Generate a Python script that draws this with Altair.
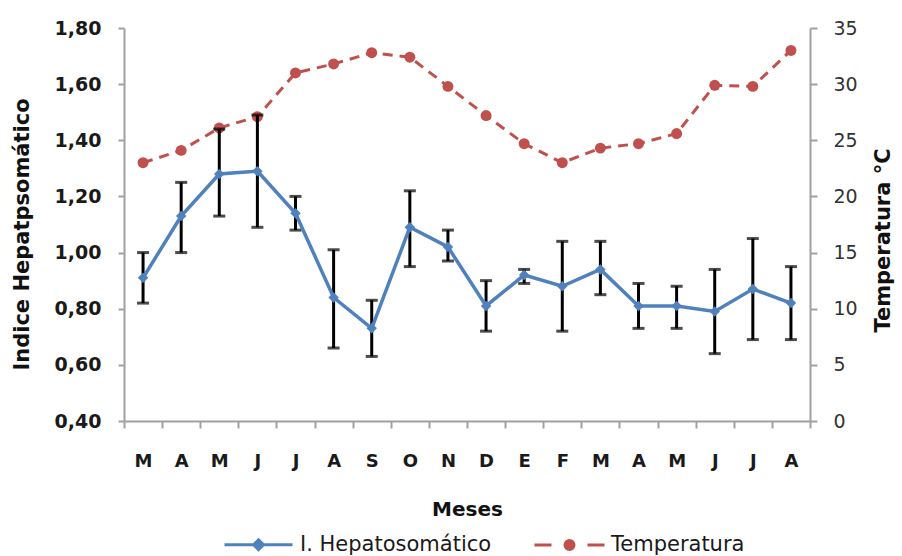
import altair as alt
import pandas as pd

# Monthly series, March to August of the following year
meses = ["M", "A", "M", "J", "J", "A", "S", "O", "N", "D", "E", "F",
         "M", "A", "M", "J", "J", "A"]
ihs = [0.91, 1.13, 1.28, 1.29, 1.14, 0.84, 0.73, 1.09, 1.02, 0.81, 0.92, 0.88,
       0.94, 0.81, 0.81, 0.79, 0.87, 0.82]
ihs_sup = [1.00, 1.25, 1.44, 1.49, 1.20, 1.01, 0.83, 1.22, 1.08, 0.90, 0.94, 1.04,
           1.04, 0.89, 0.88, 0.94, 1.05, 0.95]
ihs_inf = [0.82, 1.00, 1.13, 1.09, 1.08, 0.66, 0.63, 0.95, 0.97, 0.72, 0.89, 0.72,
           0.85, 0.73, 0.73, 0.64, 0.69, 0.69]
temperatura = [23.0, 24.1, 26.1, 27.1, 31.0, 31.8, 32.8, 32.4, 29.8, 27.2, 24.7, 23.0,
               24.3, 24.7, 25.6, 29.9, 29.8, 33.0]
series = ["I. Hepatosomático", "Temperatura"]

n = len(meses)
df = pd.DataFrame({
    "idx": list(range(n)),
    "ihs": ihs,
    "sup": ihs_sup,
    "inf": ihs_inf,
    "temp": temperatura,
})
df_leg = pd.DataFrame({"idx": [0, 1], "serie": series, "ihs": ihs[:2]})

AZUL = "#4f81bd"
ROJO = "#c0504d"
GRIS = "#a0a0a0"
FUENTE = "DejaVu Sans"

# legend symbols: line + marker drawn as one path
SIMB_AZUL = "M-3.4,0L3.4,0M0,-0.5L0.5,0L0,0.5L-0.5,0Z"
SIMB_ROJO = ("M-3.5,0L-1.8,0M1.8,0L3.5,0"
             "M0.45,0A0.45,0.45,0,1,1,-0.45,0A0.45,0.45,0,1,1,0.45,0Z")

label_expr = "[" + ",".join(f"'{m}'" for m in meses) + "][datum.value]"

x_scale = alt.Scale(type="band", paddingInner=0, paddingOuter=0)
x_axis = alt.Axis(
    title="Meses", labelExpr=label_expr, labelAngle=0, tickBand="extent",
    tickSize=7, labelPadding=24, labelFontSize=18, labelFontWeight="bold",
    labelColor="#1a1a1a", titleFontSize=20, titleFontWeight="bold",
    titleY=94, titleBaseline="alphabetic", grid=False,
)
x_enc = alt.X("idx:O", bandPosition=0.5, scale=x_scale, axis=x_axis)

y_izq = alt.Scale(domain=[0.4, 1.8], nice=False, zero=False)
y_der = alt.Scale(domain=[0, 35], nice=False, zero=True)

eje_izq = alt.Axis(
    title="Indice Hepatpsomático", orient="left",
    values=[0.4, 0.6, 0.8, 1.0, 1.2, 1.4, 1.6, 1.8],
    labelExpr="replace(format(datum.value, '.2f'), '.', ',')",
    tickSize=6, labelPadding=17, labelFontSize=19, labelFontWeight="bold",
    labelColor="#1a1a1a", titleFontSize=21, titleFontWeight="bold",
    titleAngle=270, titleX=-96, titleY=206, titleBaseline="alphabetic",
    titleAlign="center", grid=False,
)
eje_der = alt.Axis(
    title="Temperatura °C", orient="right",
    values=[0, 5, 10, 15, 20, 25, 30, 35],
    tickSize=7, labelPadding=16, labelFontSize=19, labelColor="#333333",
    titleFontSize=21, titleFontWeight="bold",
    titleAngle=270, titleX=79, titleY=212, titleBaseline="alphabetic",
    titleAlign="center", grid=False,
)


def y_izq_enc(campo):
    return alt.Y(f"{campo}:Q", scale=y_izq, axis=eje_izq)


def y_der_enc(campo):
    return alt.Y(f"{campo}:Q", scale=y_der, axis=eje_der)


base = alt.Chart(df)

# temperature: dashed red line with round markers
temp_linea = base.mark_line(color=ROJO, strokeWidth=3, strokeDash=[10, 7]).encode(
    x=x_enc, y=y_der_enc("temp")
)
temp_puntos = base.mark_point(filled=True, shape="circle", size=120, color=ROJO, opacity=1).encode(
    x=x_enc, y=y_der_enc("temp")
)
capa_temp = alt.layer(temp_linea, temp_puntos)

# hepatosomatic index with error bars
barras = base.mark_rule(color="black", strokeWidth=3).encode(
    x=x_enc, y=y_izq_enc("inf"), y2="sup:Q"
)
tope_sup = base.mark_tick(color="black", size=12, thickness=3).encode(
    x=x_enc, y=y_izq_enc("sup")
)
tope_inf = base.mark_tick(color="black", size=12, thickness=3).encode(
    x=x_enc, y=y_izq_enc("inf")
)
ihs_linea = base.mark_line(color=AZUL, strokeWidth=3.5).encode(
    x=x_enc, y=y_izq_enc("ihs")
)
ihs_puntos = base.mark_point(filled=True, shape="diamond", size=110, color=AZUL, opacity=1).encode(
    x=x_enc, y=y_izq_enc("ihs")
)

# invisible layer that carries the legend
leyenda = alt.Chart(df_leg).mark_point(filled=True, opacity=0).encode(
    x=x_enc,
    y=y_izq_enc("ihs"),
    shape=alt.Shape("serie:N", title=None,
                    scale=alt.Scale(domain=series, range=[SIMB_AZUL, SIMB_ROJO])),
    fill=alt.Fill("serie:N", title=None,
                  scale=alt.Scale(domain=series, range=[AZUL, ROJO])),
    stroke=alt.Stroke("serie:N", title=None,
                      scale=alt.Scale(domain=series, range=[AZUL, ROJO])),
)
capa_ihs = alt.layer(barras, tope_sup, tope_inf, ihs_linea, ihs_puntos, leyenda)

chart = (
    alt.layer(capa_temp, capa_ihs)
    .resolve_scale(y="independent")
    .properties(
        width=686, height=393,
        padding={"left": 124, "top": 28, "right": 92, "bottom": 135},
        autosize=alt.AutoSizeParams(type="none"),
        background="white",
    )
    .configure_view(stroke="transparent")
    .configure_axis(
        labelFont=FUENTE, titleFont=FUENTE, domainColor=GRIS, tickColor=GRIS,
        domainWidth=2, tickWidth=2, titleColor="#111111",
    )
    .configure_legend(
        orient="none", legendX=123, legendY=505, direction="horizontal",
        labelFont=FUENTE, labelFontSize=21, labelColor="#1a1a1a", labelLimit=400,
        symbolSize=400, symbolStrokeWidth=3, symbolOpacity=1,
        columnPadding=36, labelOffset=30, padding=0,
    )
)

chart.save("out.html", embed_options={"renderer": "svg", "actions": False})
